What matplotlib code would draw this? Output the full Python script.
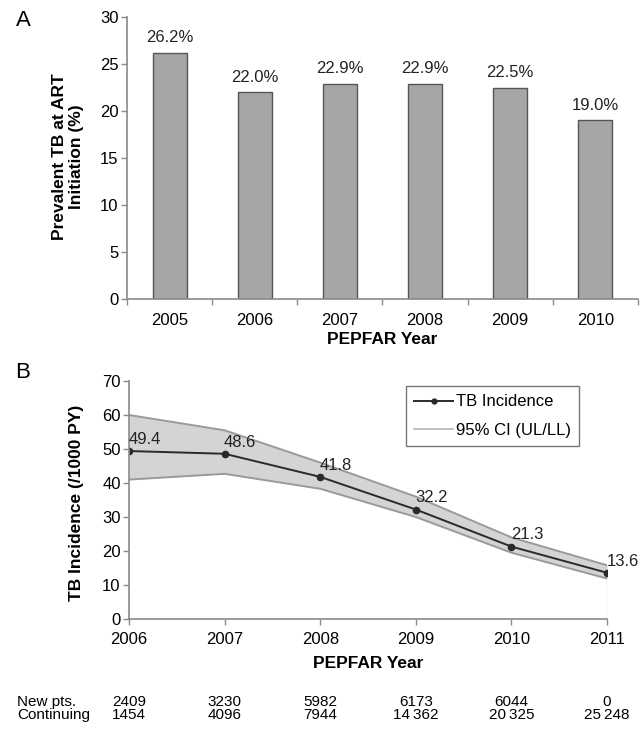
import matplotlib
matplotlib.use('Agg')
import matplotlib.pyplot as plt
import matplotlib.transforms as mtransforms
from matplotlib.lines import Line2D

plt.rcParams['font.family'] = ['Liberation Sans', 'DejaVu Sans']

# ---- data ----
years_a = ['2005', '2006', '2007', '2008', '2009', '2010']
prev_tb = [26.2, 22.0, 22.9, 22.9, 22.5, 19.0]

years_b = [2006, 2007, 2008, 2009, 2010, 2011]
incidence = [49.4, 48.6, 41.8, 32.2, 21.3, 13.6]
ci_upper = [60.0, 55.5, 46.0, 36.0, 24.0, 15.8]
ci_lower = [41.0, 42.7, 38.3, 30.0, 19.5, 11.9]

new_pts = ['2409', '3230', '5982', '6173', '6044', '0']
continuing = ['1454', '4096', '7944', '14\u2009362', '20\u2009325', '25\u2009248']

W, H = 643, 730
fig = plt.figure(figsize=(W / 100, H / 100), dpi=100)


def box(l, t, r, b):
    # pixel box -> figure fraction [left, bottom, width, height]
    return [l / W, 1 - b / H, (r - l) / W, (b - t) / H]


axis_col = '#8a8a8a'

# ---------- panel A ----------
ax1 = fig.add_axes(box(127, 17, 638, 299))
x = range(len(prev_tb))
ax1.bar(x, prev_tb, width=0.4, color='#a6a6a6', edgecolor='#555555', linewidth=1.0)
for i, v in enumerate(prev_tb):
    ax1.annotate('%.1f%%' % v, (i, v), xytext=(0, 5.5), textcoords='offset points',
                 ha='center', va='bottom', fontsize=12, color='#222222')
ax1.set_xlim(-0.5, len(prev_tb) - 0.5)
ax1.set_ylim(0, 30)
ax1.set_yticks(range(0, 31, 5))
ax1.set_xticks(list(x))
ax1.set_xticklabels(years_a)
ax1.set_xticks([i - 0.5 for i in range(len(prev_tb) + 1)], minor=True)
ax1.tick_params(axis='x', which='major', length=0, pad=10, labelsize=12)
ax1.tick_params(axis='x', which='minor', length=4, color=axis_col, width=1)
ax1.tick_params(axis='y', length=4, color=axis_col, width=1, labelsize=12, pad=2)
for s in ['top', 'right']:
    ax1.spines[s].set_visible(False)
for s in ['left', 'bottom']:
    ax1.spines[s].set_color(axis_col)
    ax1.spines[s].set_linewidth(1.2)

fig.text(68 / W, 1 - 157 / H, 'Prevalent TB at ART\nInitiation (%)', rotation=90,
         ha='center', va='center', fontsize=12.5, fontweight='bold', multialignment='center')
fig.text(382 / W, 1 - 340 / H, 'PEPFAR Year', ha='center', va='center',
         fontsize=12.5, fontweight='bold')
fig.text(23 / W, 1 - 21 / H, 'A', ha='center', va='center', fontsize=16)

# ---------- panel B ----------
ax2 = fig.add_axes(box(129, 381, 607, 619))
ax2.fill_between(years_b, ci_lower, ci_upper, color='#d4d4d4', linewidth=0)
ax2.plot(years_b, ci_upper, color='#9a9a9a', linewidth=1.4)
ax2.plot(years_b, ci_lower, color='#9a9a9a', linewidth=1.4)
ax2.plot([years_b[-1], years_b[-1]], [0, ci_lower[-1]], color='#cfcfcf', linewidth=1)
ax2.plot(years_b, incidence, color='#2a2a2a', linewidth=1.4, marker='o', markersize=4.5)
for xi, v in zip(years_b, incidence):
    ax2.annotate('%.1f' % v, (xi, v), xytext=(-0.5, 3), textcoords='offset points',
                 ha='left', va='bottom', fontsize=12, color='#222222')
ax2.set_xlim(years_b[0], years_b[-1])
ax2.set_ylim(0, 70)
ax2.set_xticks(years_b)
ax2.set_yticks(range(0, 71, 10))
ax2.tick_params(axis='x', length=4, color=axis_col, width=1, labelsize=12, pad=5)
ax2.tick_params(axis='y', length=4, color=axis_col, width=1, labelsize=12, pad=2)
for s in ['top', 'right']:
    ax2.spines[s].set_visible(False)
for s in ['left', 'bottom']:
    ax2.spines[s].set_color(axis_col)
    ax2.spines[s].set_linewidth(1.2)

handles = [Line2D([], [], color='#2a2a2a', linewidth=1.4, marker='o', markersize=3.5),
           Line2D([], [], color='#b5b5b5', linewidth=1.2)]
leg = fig.legend(handles, ['TB Incidence', '95% CI (UL/LL)'], loc='upper left',
                 bbox_to_anchor=(406 / W, 1 - 386 / H), fontsize=12, frameon=True,
                 fancybox=False, edgecolor='#555555', handlelength=2.3,
                 handletextpad=0.2, borderpad=0.5, labelspacing=0.8, borderaxespad=0)
leg.get_frame().set_linewidth(1.0)

fig.text(76 / W, 1 - 503 / H, 'TB Incidence (/1000 PY)', rotation=90, ha='center',
         va='center', fontsize=12.5, fontweight='bold')
fig.text(368 / W, 1 - 663 / H, 'PEPFAR Year', ha='center', va='center',
         fontsize=12.5, fontweight='bold')
fig.text(23 / W, 1 - 372 / H, 'B', ha='center', va='center', fontsize=16)

# patient counts under the axis
tr = mtransforms.blended_transform_factory(ax2.transData, fig.transFigure)
fig.text(17 / W, 1 - 702 / H, 'New pts.', ha='left', va='center', fontsize=11)
fig.text(17 / W, 1 - 715 / H, 'Continuing', ha='left', va='center', fontsize=11)
for xi, n, c in zip(years_b, new_pts, continuing):
    fig.text(xi, 1 - 702 / H, n, transform=tr, ha='center', va='center', fontsize=11)
    fig.text(xi, 1 - 715 / H, c, transform=tr, ha='center', va='center', fontsize=11)

fig.savefig('out.png', dpi=100)
